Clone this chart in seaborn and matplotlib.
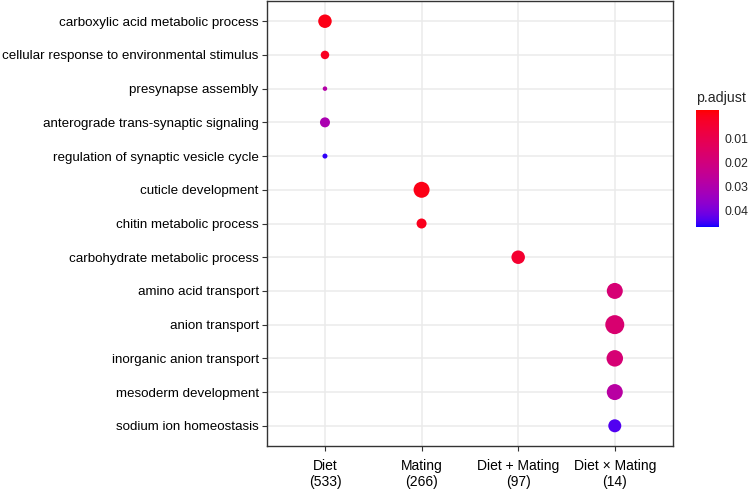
import numpy as np
import pandas as pd
import matplotlib
matplotlib.use('Agg')
import matplotlib.pyplot as plt
from matplotlib.colors import ListedColormap, Normalize
from matplotlib.cm import ScalarMappable
import seaborn as sns

# GO terms (top to bottom), the contrast each belongs to, and the values
terms = [
    'carboxylic acid metabolic process',
    'cellular response to environmental stimulus',
    'presynapse assembly',
    'anterograde trans-synaptic signaling',
    'regulation of synaptic vesicle cycle',
    'cuticle development',
    'chitin metabolic process',
    'carbohydrate metabolic process',
    'amino acid transport',
    'anion transport',
    'inorganic anion transport',
    'mesoderm development',
    'sodium ion homeostasis',
]
groups = ['Diet\n(533)', 'Mating\n(266)', 'Diet + Mating\n(97)', 'Diet \u00d7 Mating\n(14)']
term_group = [0, 0, 0, 0, 0, 1, 1, 2, 3, 3, 3, 3, 3]
p_adjust = [0.0001, 0.0015, 0.029, 0.031, 0.046, 0.0001, 0.001, 0.004,
            0.018, 0.017, 0.018, 0.028, 0.044]
gene_ratio = [0.182, 0.072, 0.020, 0.100, 0.025, 0.256, 0.100, 0.182,
              0.256, 0.361, 0.272, 0.256, 0.169]

df = pd.DataFrame({
    'term': terms,
    'group': [groups[i] for i in term_group],
    'p.adjust': p_adjust,
    'GeneRatio': gene_ratio,
})


# red -> blue gradient interpolated in CIELAB, like ggplot's default
def to_lab(rgb):
    rgb = np.asarray(rgb, float)
    lin = np.where(rgb <= 0.04045, rgb / 12.92, ((rgb + 0.055) / 1.055) ** 2.4)
    m = np.array([[0.4124, 0.3576, 0.1805],
                  [0.2126, 0.7152, 0.0722],
                  [0.0193, 0.1192, 0.9505]])
    xyz = m @ lin / np.array([0.95047, 1.0, 1.08883])
    f = np.where(xyz > 0.008856, np.cbrt(xyz), 7.787 * xyz + 16 / 116)
    return np.array([116 * f[1] - 16, 500 * (f[0] - f[1]), 200 * (f[1] - f[2])])


def from_lab(lab):
    L, a, b = lab
    fy = (L + 16) / 116
    f = np.array([fy + a / 500, fy, fy - b / 200])
    xyz = np.where(f ** 3 > 0.008856, f ** 3, (f - 16 / 116) / 7.787)
    xyz = xyz * np.array([0.95047, 1.0, 1.08883])
    m = np.array([[3.2406, -1.5372, -0.4986],
                  [-0.9689, 1.8758, 0.0415],
                  [0.0557, -0.2040, 1.0570]])
    lin = np.clip(m @ xyz, 0, 1)
    rgb = np.where(lin <= 0.0031308, 12.92 * lin, 1.055 * lin ** (1 / 2.4) - 0.055)
    return np.clip(rgb, 0, 1)


lab_lo, lab_hi = to_lab([1, 0, 0]), to_lab([0, 0, 1])
cmap = ListedColormap([from_lab(lab_lo + t * (lab_hi - lab_lo)) for t in np.linspace(0, 1, 256)])
norm = Normalize(vmin=-0.002, vmax=0.047)

sns.set_style('white')
plt.rcParams['font.family'] = ['Liberation Sans', 'DejaVu Sans']

fig = plt.figure(figsize=(7.5, 4.93), dpi=100)
ax = fig.add_axes([0.356, 0.0953, 0.541, 0.9027])

sns.scatterplot(data=df, x='group', y='term', hue='p.adjust', size='GeneRatio',
                palette=cmap, hue_norm=norm, sizes=(10.5, 187), size_norm=(0.02, 0.361),
                linewidth=0, legend=False, ax=ax, zorder=3)

ax.set_xlim(-0.6, len(groups) - 0.4)
ax.set_ylim(len(terms) - 0.4, -0.6)
ax.grid(True, color='#EBEBEB', lw=1.1)
ax.set_axisbelow(True)
for sp in ax.spines.values():
    sp.set_color('#333333')
    sp.set_linewidth(1.0)
ax.tick_params(bottom=True, left=True, length=3.5, width=0.8, color='#333333',
               labelsize=9.6, labelcolor='black', pad=2.5)
ax.tick_params(axis='x', labelsize=10, pad=6)
for lbl in ax.get_xticklabels():
    lbl.set_linespacing(1.15)
ax.set_xlabel('')
ax.set_ylabel('')

# colour bar
cax = fig.add_axes([0.928, 0.5396, 0.031, 0.2373])
cb = fig.colorbar(ScalarMappable(norm=norm, cmap=cmap), cax=cax)
cb.outline.set_visible(False)
cax.invert_yaxis()
cb.set_ticks([0.01, 0.02, 0.03, 0.04])
cb.set_ticklabels(['0.01', '0.02', '0.03', '0.04'])
cax.tick_params(which='both', direction='in', left=True, right=True,
                labelleft=False, labelright=True, color='white', length=4,
                width=0.8, labelsize=8.8, pad=4)
cax.set_title('p.adjust', loc='left', fontsize=10.2, pad=6)

fig.savefig('out.png', dpi=100)
